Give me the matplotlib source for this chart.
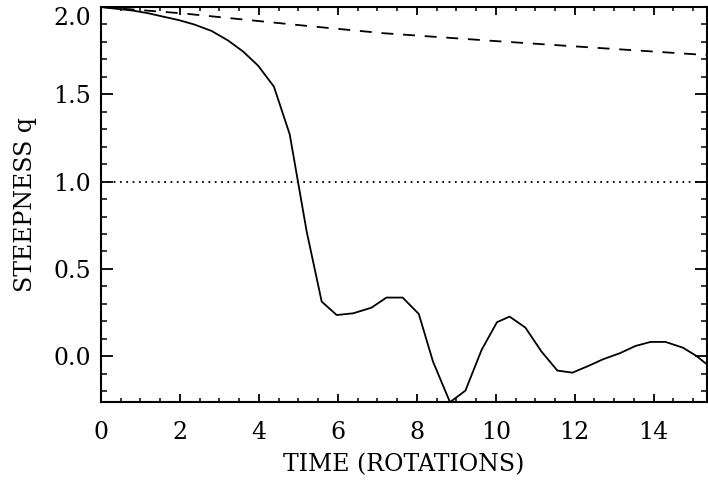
import numpy as np
import matplotlib
matplotlib.use("Agg")
import matplotlib.pyplot as plt
from matplotlib.ticker import MultipleLocator

# steepness q vs time (rotations)
t_solid = [0.0, 0.39, 0.79, 1.18, 1.57, 1.97, 2.36, 2.80, 3.22, 3.60, 3.98, 4.38,
           4.78, 5.21, 5.59, 5.97, 6.39, 6.85, 7.23, 7.64, 8.05, 8.41, 8.84, 9.23,
           9.64, 10.03, 10.35, 10.75, 11.16, 11.56, 11.94, 12.34, 12.72, 13.14,
           13.54, 13.92, 14.30, 14.74, 15.08, 15.45]
q_solid = [2.0, 1.99, 1.98, 1.965, 1.945, 1.925, 1.90, 1.863, 1.808, 1.745, 1.664, 1.544,
           1.271, 0.714, 0.313, 0.236, 0.246, 0.278, 0.336, 0.336, 0.242, -0.031, -0.263, -0.197,
           0.036, 0.195, 0.227, 0.164, 0.026, -0.082, -0.094, -0.056, -0.017, 0.017,
           0.059, 0.082, 0.082, 0.049, 0.002, -0.065]

t_dash = [0.0, 2.04, 5.16, 7.15, 9.92, 12.5, 15.4]
q_dash = [2.0, 1.964, 1.893, 1.85, 1.806, 1.767, 1.724]

q_crit = 1.0

plt.rcParams['font.family'] = ['DejaVu Serif']
plt.rcParams['font.size'] = 17

fig = plt.figure(figsize=(7.08, 4.8), dpi=100)
ax = fig.add_axes([101/708, 1 - 402/480, 606/708, 395/480])

ax.plot(t_solid, q_solid, color='black', lw=1.3)
ax.plot(t_dash, q_dash, color='black', lw=1.3, ls=(0, (6.6, 5.4)))
ax.axhline(q_crit, color='black', lw=1.3, ls=(0, (1, 2.5)))

ax.set_xlim(0, 15.35)
ax.set_ylim(-0.262, 2.0)
ax.xaxis.set_major_locator(MultipleLocator(2))
ax.xaxis.set_minor_locator(MultipleLocator(0.5))
ax.yaxis.set_major_locator(MultipleLocator(0.5))
ax.yaxis.set_minor_locator(MultipleLocator(0.1))
ax.yaxis.set_major_formatter(plt.FormatStrFormatter('%.1f'))

ax.tick_params(axis='x', which='major', direction='in', length=5.8, width=1.3,
               top=True, pad=14)
ax.tick_params(axis='x', which='minor', direction='in', length=2.9, width=1.1, top=True)
ax.tick_params(axis='y', which='major', direction='in', length=8.6, width=1.3,
               right=True, pad=7)
ax.tick_params(axis='y', which='minor', direction='in', length=4.3, width=1.1, right=True)
for s in ax.spines.values():
    s.set_linewidth(1.5)

fig.canvas.draw()
for lab in ax.get_yticklabels():
    if lab.get_text() == '2.0':
        lab.set_va('top')

ax.set_xlabel('TIME (ROTATIONS)', labelpad=6)
ax.set_ylabel('STEEPNESS q', labelpad=12)

fig.savefig('out.png', dpi=100)
